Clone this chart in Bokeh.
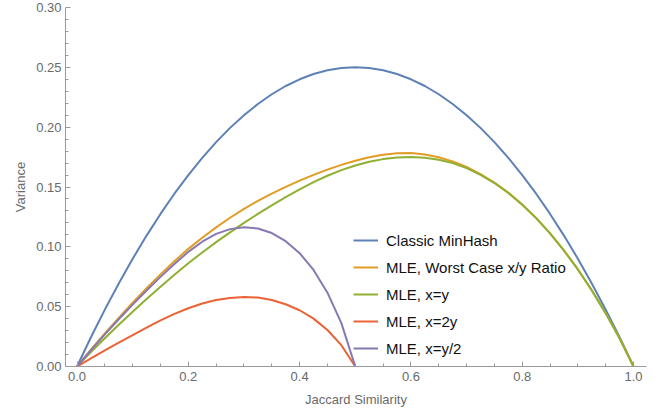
from bokeh.plotting import figure
from bokeh.models import FixedTicker, NumeralTickFormatter, Legend, LegendItem, Range1d
from bokeh.embed import file_html
from bokeh.resources import INLINE

# ---- data ----
J = [0.0, 0.025, 0.05, 0.075, 0.1, 0.125, 0.15, 0.175, 0.2, 0.225, 0.25,
     0.275, 0.3, 0.325, 0.35, 0.375, 0.4, 0.425, 0.45, 0.475, 0.5,
     0.525, 0.55, 0.575, 0.6, 0.625, 0.65, 0.675, 0.7, 0.725, 0.75,
     0.775, 0.8, 0.825, 0.85, 0.875, 0.9, 0.925, 0.95, 0.975, 1.0]
classic = [0, .0244, .0475, .0694, .09, .1094, .1275, .1444, .16, .1744, .1875,
           .1994, .21, .2194, .2275, .2344, .24, .2444, .2475, .2494, .25,
           .2494, .2475, .2444, .24, .2344, .2275, .2194, .21, .1994, .1875,
           .1744, .16, .1444, .1275, .1094, .09, .0694, .0475, .0244, 0]
mle_worst = [0, .0140, .0276, .0407, .0533, .0654, .0770, .0880, .0983, .1076, .1163,
             .1243, .1317, .1384, .1445, .1501, .1553, .1601, .1645, .1685, .1720,
             .1749, .1770, .1782, .1785, .1772, .1748, .1714, .1667, .1608, .1537,
             .1453, .1354, .1241, .1113, .0970, .0812, .0637, .0445, .0235, 0]
mle_eq = [0, .0120, .0236, .0349, .0458, .0564, .0667, .0767, .0863, .0953, .1039,
          .1121, .1200, .1275, .1347, .1415, .1480, .1540, .1594, .1641, .1680,
          .1711, .1733, .1746, .1750, .1745, .1728, .1700, .1658, .1602, .1533,
          .1450, .1352, .1240, .1112, .0969, .0811, .0636, .0444, .0234, 0]

J_half = [0.0, 0.025, 0.05, 0.075, 0.1, 0.125, 0.15, 0.175, 0.2, 0.225, 0.25,
          0.275, 0.3, 0.325, 0.35, 0.375, 0.4, 0.425, 0.45, 0.475, 0.5]
mle_x2y = [0, .0068, .0135, .0200, .0263, .0325, .0385, .0440, .0487, .0526, .0555,
           .0573, .0580, .0576, .0556, .0520, .0470, .0400, .0305, .0178, 0]
mle_xhalfy = [0, .0136, .0268, .0395, .0517, .0635, .0749, .0857, .0958, .1043, .1108,
              .1148, .1163, .1153, .1115, .1047, .0947, .0807, .0617, .0362, 0]

x_ticks = [0.0, 0.2, 0.4, 0.6, 0.8, 1.0]
x_minor = [0.05, 0.1, 0.15, 0.25, 0.3, 0.35, 0.45, 0.5, 0.55, 0.65, 0.7, 0.75, 0.85, 0.9, 0.95]
y_ticks = [0.0, 0.05, 0.1, 0.15, 0.2, 0.25, 0.3]
y_minor = [round(0.01 * i, 2) for i in range(31) if i % 5 != 0]

labels = ["Classic MinHash", "MLE, Worst Case x/y Ratio", "MLE, x=y", "MLE, x=2y", "MLE, x=y/2"]
colors = ["#5E81B5", "#E19C24", "#8FB032", "#EB6235", "#8778B3"]

FONT = "Liberation Sans"
GRAY = "#6a6a6a"

p = figure(frame_width=581, frame_height=359,
           min_border_left=65, min_border_right=12, min_border_top=7, min_border_bottom=48,
           x_range=Range1d(-0.0207, 1.0233), y_range=Range1d(0, 0.30),
           output_backend="svg", toolbar_location=None)
p.outline_line_color = None
p.grid.visible = False
p.background_fill_color = "white"
p.border_fill_color = "white"

series = [(J, classic), (J, mle_worst), (J, mle_eq), (J_half, mle_x2y), (J_half, mle_xhalfy)]
renderers = []
for (xs, ys), c in zip(series, colors):
    r = p.line(xs, ys, line_color=c, line_width=2, line_join="round")
    renderers.append(r)

for ax in (p.xaxis[0], p.yaxis[0]):
    ax.axis_line_color = "#9a9a9a"
    ax.major_tick_line_color = "#9a9a9a"
    ax.minor_tick_line_color = "#9a9a9a"
    ax.major_tick_in = 5
    ax.major_tick_out = 0
    ax.minor_tick_in = 3
    ax.minor_tick_out = 0
    ax.major_label_text_font = FONT
    ax.major_label_text_font_size = "13px"
    ax.major_label_text_color = GRAY
    ax.axis_label_text_font = FONT
    ax.axis_label_text_font_size = "13px"
    ax.axis_label_text_font_style = "normal"
    ax.axis_label_text_color = GRAY

p.xaxis[0].ticker = FixedTicker(ticks=x_ticks, minor_ticks=x_minor)
p.xaxis[0].formatter = NumeralTickFormatter(format="0.0")
p.xaxis[0].axis_label = "Jaccard Similarity"
p.xaxis[0].major_label_standoff = 5
p.xaxis[0].axis_label_standoff = 8

p.yaxis[0].ticker = FixedTicker(ticks=y_ticks, minor_ticks=y_minor)
p.yaxis[0].formatter = NumeralTickFormatter(format="0.00")
p.yaxis[0].axis_label = "Variance"
p.yaxis[0].major_label_standoff = 4
p.yaxis[0].axis_label_standoff = 5

items = [LegendItem(label=l, renderers=[r]) for l, r in zip(labels, renderers)]
legend = Legend(items=items, location=(288, 8), orientation="vertical",
                label_text_font=FONT, label_text_font_size="15px", label_text_color="#111111",
                glyph_width=25, glyph_height=20, label_height=20, spacing=7,
                label_standoff=8, padding=0, margin=0,
                background_fill_alpha=0, border_line_color=None)
p.add_layout(legend, "center")

open("out.html", "w").write(file_html(p, INLINE))
